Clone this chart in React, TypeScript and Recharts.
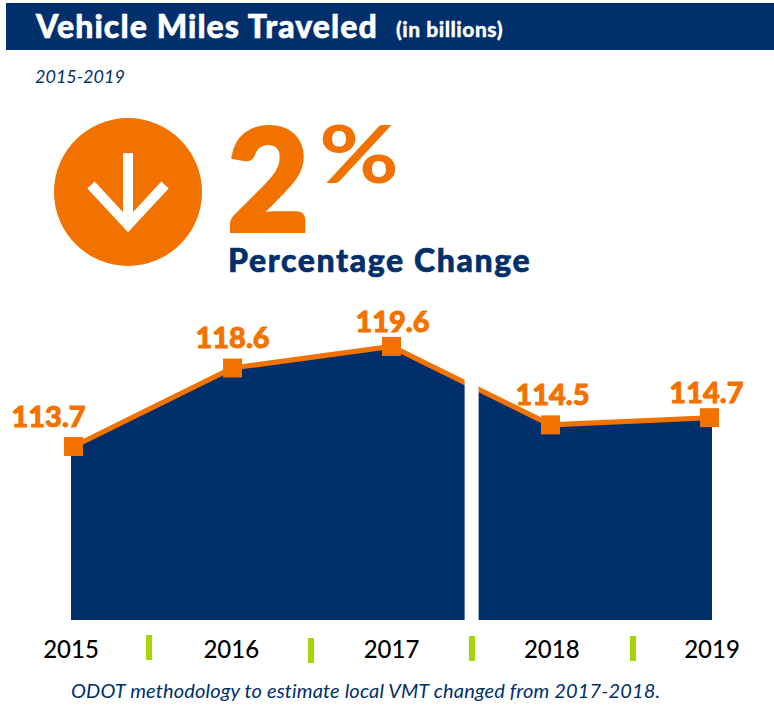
import { ComposedChart, Area, Line, XAxis, YAxis, ReferenceArea } from "recharts";

const NAVY = "#002f6c";
const ORANGE = "#f27200";
const GREEN = "#a6d608";
const HEAVY = "Lato, sans-serif";

const years = [2015, 2016, 2017, 2018, 2019];
const valueLabels = ["113.7", "118.6", "119.6", "114.5", "114.7"];
// heights as drawn in the source graphic, which does not follow its printed labels exactly
const drawnValues = [113.7, 118.6, 119.95, 115.05, 115.5];

const areaEdgeYears = [2014.984, 2019.016];
const gapYears = [2017.46, 2017.548];

const labelShiftX = [-25, 0, 1, 2, -3];
const labelBaselineY = [427, 348, 332, 405, 403];
const separators = [
  { x: 146, y: 635 },
  { x: 308, y: 638 },
  { x: 469, y: 636 },
  { x: 630, y: 636 },
];

const rows = [
  { year: areaEdgeYears[0], fill: drawnValues[0], line: null },
  ...years.map((year, i) => ({ year, fill: drawnValues[i], line: drawnValues[i] })),
  { year: areaEdgeYears[1], fill: drawnValues[4], line: null },
];

function SquareDot({ cx, cy }: any) {
  if (cy == null) return null;
  return <rect x={cx - 9.5} y={cy - 9.5} width={19} height={19} fill={ORANGE} />;
}

function ValueLabel({ x, index, value }: any) {
  if (value == null) return null;
  // the two edge rows shift the index by one
  const i = index - 1;
  return (
    <text
      x={x + labelShiftX[i]}
      y={labelBaselineY[i]}
      textAnchor="middle"
      fill={ORANGE}
      stroke={ORANGE}
      strokeWidth={0.9}
      fontFamily={HEAVY}
      fontWeight={900}
      fontSize={29}
    >
      {valueLabels[i]}
    </text>
  );
}

export default function App() {
  return (
    <div style={{ position: "absolute", left: 0, top: 0, width: 774, height: 707, background: "#fff", overflow: "hidden", fontFamily: HEAVY }}>
      <div style={{ position: "absolute", left: 6, top: 3, width: 768, height: 47, background: NAVY }} />
      <div style={{ position: "absolute", left: 36, top: 6, color: "#fff", fontWeight: 900, fontSize: 32, letterSpacing: 1.1, WebkitTextStroke: "0.6px #fff", whiteSpace: "nowrap" }}>
        Vehicle Miles Traveled
        <span style={{ position: "absolute", left: 360, top: 10, fontSize: 21, letterSpacing: 0.5, WebkitTextStroke: "0.3px #fff" }}>(in billions)</span>
      </div>
      <div style={{ position: "absolute", left: 35, top: 65, color: NAVY, fontStyle: "italic", fontSize: 18 }}>2015-2019</div>

      <svg style={{ position: "absolute", left: 0, top: 0 }} width={774} height={290}>
        <circle cx={128} cy={192} r={74} fill={ORANGE} />
        <path d="M128 153 V224" stroke="#fff" strokeWidth={10} fill="none" />
        <path d="M91 185 L128 225 L165 185" stroke="#fff" strokeWidth={10} fill="none" />
      </svg>
      <div style={{ position: "absolute", left: 227, top: 122, color: ORANGE, fontWeight: 900, fontSize: 142, lineHeight: "108px", WebkitTextStroke: "4px " + ORANGE }}>2</div>
      <div style={{ position: "absolute", left: 319, top: 116, color: ORANGE, fontWeight: 700, fontSize: 80, lineHeight: "72px", transform: "scaleX(1.22)", transformOrigin: "left" }}>%</div>
      <div style={{ position: "absolute", left: 228, top: 240, color: NAVY, fontWeight: 900, fontSize: 32, letterSpacing: 1.6, WebkitTextStroke: "0.6px " + NAVY, whiteSpace: "nowrap" }}>
        Percentage Change
      </div>

      <div style={{ position: "absolute", left: 0, top: 0 }}>
        <ComposedChart width={774} height={707} data={rows} margin={{ top: 313.6, right: 62, bottom: 0, left: 71 }}>
          <XAxis xAxisId="plot" dataKey="year" type="number" domain={areaEdgeYears} hide />
          <XAxis
            xAxisId="ticks"
            dataKey="year"
            type="number"
            domain={[years[0], years[4]]}
            ticks={years}
            interval={0}
            allowDataOverflow
            height={87}
            axisLine={false}
            tickLine={false}
            tick={{ fill: "#000", fontSize: 24, fontFamily: HEAVY, fontWeight: 500, dy: -17 }}
          />
          <YAxis hide domain={[102.86, 122]} />
          <Area xAxisId="plot" dataKey="fill" type="linear" fill={NAVY} fillOpacity={1} stroke="none" dot={false} activeDot={false} isAnimationActive={false} />
          <Line
            xAxisId="plot"
            dataKey="line"
            type="linear"
            stroke={ORANGE}
            strokeWidth={5}
            dot={<SquareDot />}
            label={<ValueLabel />}
            activeDot={false}
            isAnimationActive={false}
          />
          <ReferenceArea xAxisId="plot" x1={gapYears[0]} x2={gapYears[1]} fill="#fff" fillOpacity={1} stroke="none" zIndex={2000} />
        </ComposedChart>
      </div>

      {separators.map((s) => (
        <div key={s.x} style={{ position: "absolute", left: s.x, top: s.y, width: 5.5, height: 25, background: GREEN }} />
      ))}
      <div style={{ position: "absolute", left: 71, top: 678, color: NAVY, fontStyle: "italic", fontSize: 20, letterSpacing: 0.16, whiteSpace: "nowrap" }}>
        ODOT methodology to estimate local VMT changed from 2017-2018.
      </div>
    </div>
  );
}
